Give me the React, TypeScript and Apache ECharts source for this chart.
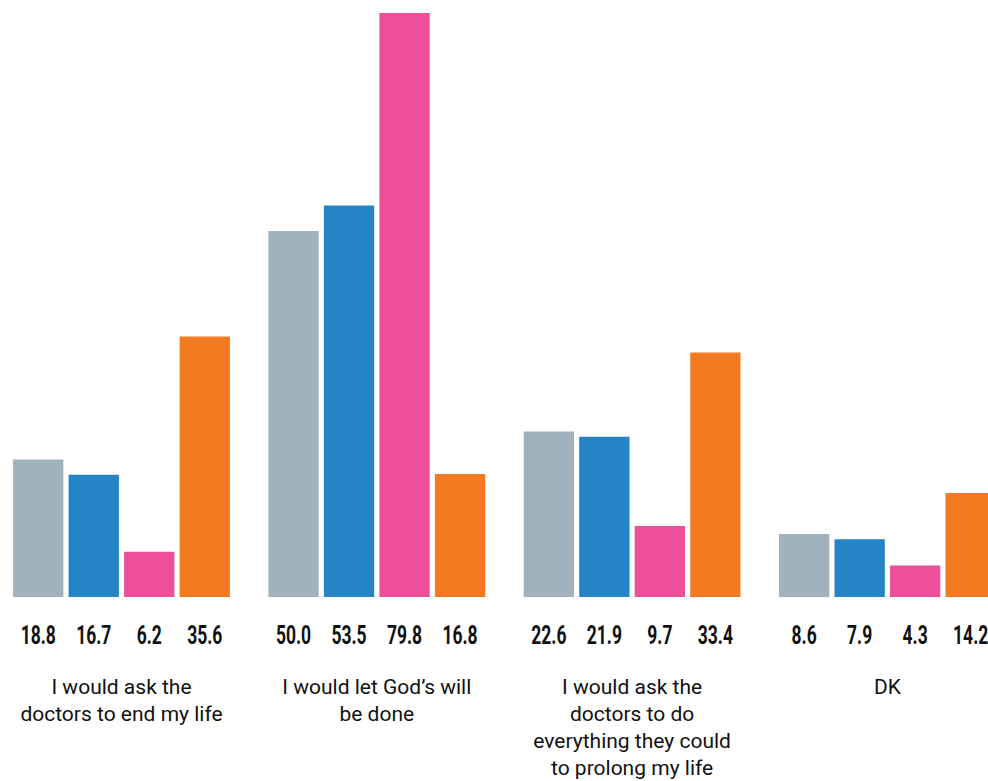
import React, { useEffect, useRef } from "react";
import * as echarts from "echarts";

const categories = [
  "I would ask the\ndoctors to end my life",
  "I would let God’s will\nbe done",
  "I would ask the\ndoctors to do\neverything they could\nto prolong my life",
  "DK",
];
const seriesA = [18.8, 50.0, 22.6, 8.6];
const seriesB = [16.7, 53.5, 21.9, 7.9];
const seriesC = [6.2, 79.8, 9.7, 4.3];
const seriesD = [35.6, 16.8, 33.4, 14.2];
const allSeries = [seriesA, seriesB, seriesC, seriesD];
const colors = ["#a0b2bd", "#2484c6", "#ee4f9b", "#f47a22"];

const BAR_W = 50.3;
const BAR_GAP = 5.2;

export default function App() {
  const ref = useRef<HTMLDivElement>(null);
  useEffect(() => {
    if (!ref.current) return;
    const chart = echarts.init(ref.current, null, { renderer: "svg" });
    const mk = (data: number[], i: number) => ({
      type: "bar",
      data,
      barWidth: BAR_W,
      barGap: (BAR_GAP / BAR_W) * 100 + "%",
      itemStyle: { color: colors[i] },
    });
    const labelData: number[][] = [];
    allSeries.forEach((s, bi) => s.forEach((v, ci) => labelData.push([ci, bi, v])));
    chart.setOption({
      animation: false,
      grid: {
        left: 13.85,
        right: 24.95,
        top: 13,
        bottom: 184,
        containLabel: false,
        outerBoundsMode: "none",
      },
      xAxis: {
        type: "category",
        data: categories,
        axisLine: { show: false },
        axisTick: { show: false },
        axisLabel: {
          interval: 0,
          margin: 77,
          fontFamily: "Roboto, sans-serif",
          fontSize: 21,
          lineHeight: 26.8,
          color: "#111111",
          verticalAlign: "top",
        },
      },
      yAxis: { type: "value", min: 0, max: 79.8, show: false, splitLine: { show: false } },
      series: [
        mk(seriesA, 0),
        mk(seriesB, 1),
        mk(seriesC, 2),
        mk(seriesD, 3),
        {
          type: "custom",
          data: labelData,
          clip: false,
          silent: true,
          encode: { x: 0, y: 1 },
          renderItem: (params: any, api: any) => {
            const ci = api.value(0);
            const bi = api.value(1);
            const v = api.value(2);
            const p = api.coord([ci, 0]);
            return {
              type: "text",
              x: p[0] + (bi - 1.5) * (BAR_W + BAR_GAP),
              y: p[1] + 38,
              scaleX: 0.7,
              style: {
                text: Number(v).toFixed(1),
                x: 0,
                y: 0,
                align: "center",
                verticalAlign: "middle",
                fontFamily: "Roboto, sans-serif",
                fontWeight: "bold",
                fontSize: 25,
                fill: "#111111",
              },
            };
          },
        },
      ],
    });
    return () => chart.dispose();
  }, []);
  return (
    <div
      style={{
        position: "absolute",
        left: 0,
        top: 0,
        width: 988,
        height: 781,
        overflow: "hidden",
        background: "#ffffff",
      }}
    >
      <div
        ref={ref}
        style={{ position: "absolute", left: -20, top: 0, width: 1060, height: 781 }}
      />
    </div>
  );
}
